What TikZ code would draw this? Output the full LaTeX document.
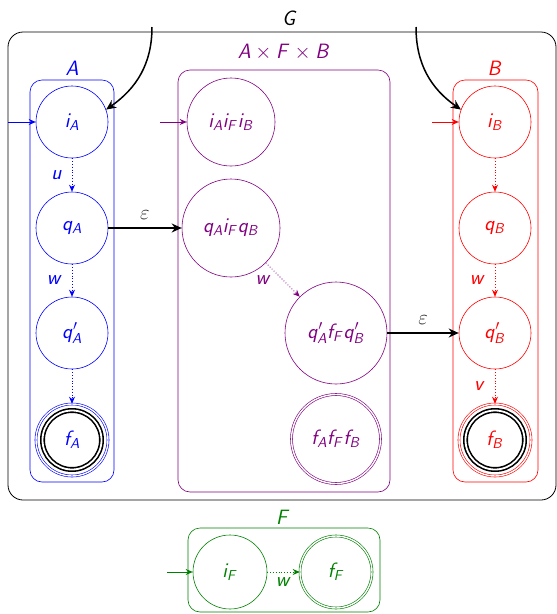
\documentclass[tikz,border=0pt]{standalone}
\usetikzlibrary{arrows.meta}
\DeclareMathAlphabet{\mathsfsl}{OT1}{cmss}{m}{sl}
\newcommand{\sname}[2]{\mathsfsl{#1}_{\mathsfsl{#2}}}
\newcommand{\pname}[2]{\mathsfsl{#1}'_{\mathsfsl{#2}}}
\colorlet{prodcol}{violet}
\colorlet{fcol}{green!50!black}

\begin{document}
\begin{tikzpicture}[%
  x=1pt, y=1pt,
  every node/.style={font=\fontsize{22}{26}\selectfont},
  state/.style={circle, draw, line width=0.6pt, inner sep=0pt, minimum size=72pt},
  acc/.style={double, double distance=1.4pt},
  core/.style={circle, draw=black, line width=1.6pt, double, double distance=1.8pt, minimum size=59pt},
  boxframe/.style={rounded corners=12pt, line width=0.6pt},
  walk/.style={dotted, line width=0.8pt, -{Stealth[length=7pt, width=6pt]}},
  initarr/.style={line width=0.8pt, -{Stealth[length=7pt, width=6pt]}},
  epsarr/.style={line width=1.5pt, -{Stealth[length=10pt, width=9pt]}}]

  \useasboundingbox (0,0) rectangle (557,-614);

  \draw[rounded corners=15pt, line width=0.8pt] (8,-32) rectangle (556,-500);
  \node (labG) at (290,-18) {$\mathsfsl{G}$};

  \draw[boxframe, blue] (30,-80) rectangle (114,-482);
  \node[blue] (labA) at (72,-68) {$\mathsfsl{A}$};
  \node[state, blue] (iA) at (72,-122) {$\sname iA$};
  \node[state, blue] (qA) at (72,-228) {$\sname qA$};
  \node[state, blue] (qpA) at (72,-333) {$\pname qA$};
  \node[state, acc, blue] (fA) at (72,-440) {$\sname fA$};
  \node[core] (fAcore) at (fA) {};

  \draw[boxframe, prodcol] (178,-70) rectangle (390,-492);
  \node[prodcol] (labAFB) at (284,-52) {$\mathsfsl{A}\times\mathsfsl{F}\times\mathsfsl{B}$};
  \node[state, prodcol, minimum size=88pt] (iii) at (231,-122) {$\sname iA\sname iF\sname iB$};
  \node[state, prodcol, minimum size=98pt] (qiq) at (231,-228) {$\sname qA\sname iF\sname qB$};
  \node[state, prodcol, minimum size=102pt] (qfq) at (336,-333) {$\pname qA\sname fF\pname qB$};
  \node[state, acc, prodcol, minimum size=89pt] (fff) at (336,-439) {$\sname fA\sname fF\sname fB$};

  \draw[boxframe, red] (453,-80) rectangle (538,-482);
  \node[red] (labB) at (495,-68) {$\mathsfsl{B}$};
  \node[state, red] (iB) at (495,-122) {$\sname iB$};
  \node[state, red] (qB) at (495,-228) {$\sname qB$};
  \node[state, red] (qpB) at (495,-333) {$\pname qB$};
  \node[state, acc, red] (fB) at (495,-440) {$\sname fB$};
  \node[core] (fBcore) at (fB) {};

  \draw[boxframe, fcol] (188,-528) rectangle (380,-612);
  \node[fcol] (labF) at (283,-517) {$\mathsfsl{F}$};
  \node[state, fcol, minimum size=74pt] (iF) at (230,-572) {$\sname iF$};
  \node[state, acc, fcol] (fF) at (336,-572) {$\sname fF$};

  \coordinate (inA) at (8,-122);
  \coordinate (inAFB) at (160,-122);
  \coordinate (inB) at (432,-122);
  \coordinate (inF) at (167,-572);
  \coordinate (topA) at (152,-27);
  \coordinate (topB) at (416,-27);

  \draw[initarr, blue] (inA) -- (iA);
  \draw[initarr, prodcol] (inAFB) -- (iii);
  \draw[initarr, red] (inB) -- (iB);
  \draw[initarr, fcol] (inF) -- (iF);

  \draw[walk, blue] (iA) -- node[left=6pt] {$\mathsfsl{u}$} (qA);
  \draw[walk, blue] (qA) -- node[left=6pt] {$\mathsfsl{w}$} (qpA);
  \draw[walk, blue] (qpA) -- (fA);
  \draw[walk, prodcol] (qiq.-45) -- node[left=8pt] {$\mathsfsl{w}$} (qfq.135);
  \draw[walk, red] (iB) -- (qB);
  \draw[walk, red] (qB) -- node[left=6pt] {$\mathsfsl{w}$} (qpB);
  \draw[walk, red] (qpB) -- node[left=6pt] {$\mathsfsl{v}$} (fB);
  \draw[walk, fcol] (iF) -- node[below=2pt] {$\mathsfsl{w}$} (fF);

  \draw[epsarr] (qA) -- node[above=4pt, black!85] {$\varepsilon$} (qiq);
  \draw[epsarr] (qfq) -- node[above=4pt, black!85] {$\varepsilon$} (qpB);
  \draw[epsarr] (topA) to[out=-90, in=35] (iA.20);
  \draw[epsarr] (topB) to[out=-90, in=145] (iB.160);
\end{tikzpicture}
\end{document}
